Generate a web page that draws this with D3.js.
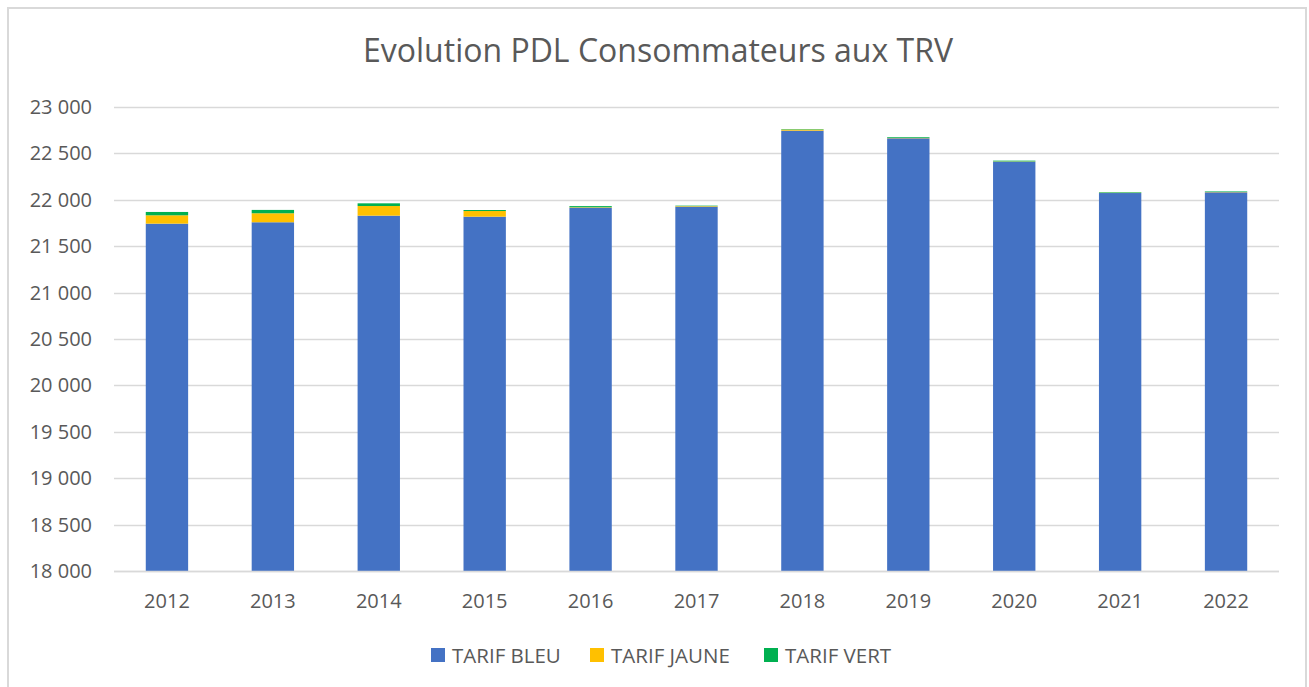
<!DOCTYPE html>
<html>
<head>
<meta charset="utf-8">
<script src="https://cdn.jsdelivr.net/npm/d3@7"></script>
<style>
  html, body { margin: 0; padding: 0; background: #fff; }
  svg text { font-family: "Open Sans", "DejaVu Sans", sans-serif; fill: #595959; }
</style>
</head>
<body>
<div id="chart"></div>
<script>
// Data
const years = ["2012", "2013", "2014", "2015", "2016", "2017", "2018", "2019", "2020", "2021", "2022"];
const tarifBleu = [21743, 21758, 21829, 21818, 21915, 21926, 22745, 22663, 22411, 22073, 22081];
const tarifJaune = [90, 97, 104, 61, 5, 6, 12, 4, 3, 3, 3];
const tarifVert = [36, 36, 29, 11, 12, 5, 5, 8, 8, 6, 6];
const yTicks = [18000, 18500, 19000, 19500, 20000, 20500, 21000, 21500, 22000, 22500, 23000];

const seriesNames = ["TARIF BLEU", "TARIF JAUNE", "TARIF VERT"];
const colors = ["#4472C4", "#FFC000", "#00B050"];

const width = 1309;
const height = 687;
const margin = { top: 107, right: 30, bottom: 116, left: 114 };
const plotRight = 1279;

const svg = d3.select("#chart")
  .append("svg")
  .attr("width", width)
  .attr("height", height);

// Chart frame
svg.append("rect")
  .attr("x", 8)
  .attr("y", 8)
  .attr("width", 1298)
  .attr("height", 690)
  .attr("fill", "#fff")
  .attr("stroke", "#D9D9D9")
  .attr("stroke-width", 2);

// Title
svg.append("text")
  .attr("x", 658)
  .attr("y", 62)
  .attr("text-anchor", "middle")
  .style("font-size", "32px")
  .text("Evolution PDL Consommateurs aux TRV");

const x = d3.scaleBand()
  .domain(years)
  .range([margin.left, plotRight])
  .paddingInner(0.6)
  .paddingOuter(0.3);

const y = d3.scaleLinear()
  .domain([18000, 23000])
  .range([height - margin.bottom, margin.top]);

// Gridlines
svg.append("g")
  .selectAll("line")
  .data(yTicks)
  .enter()
  .append("line")
  .attr("x1", margin.left)
  .attr("x2", plotRight)
  .attr("y1", d => Math.round(y(d)) + 0.5)
  .attr("y2", d => Math.round(y(d)) + 0.5)
  .attr("stroke", "#D9D9D9")
  .attr("stroke-width", 1.3);

// Y axis labels (French thousands separator)
const fmt = d => d3.format(",")(d).replace(",", " ");
const yAxis = d3.axisLeft(y)
  .tickValues(yTicks)
  .tickSize(0)
  .tickPadding(22)
  .tickFormat(fmt);

const gy = svg.append("g")
  .attr("transform", `translate(${margin.left},0)`)
  .call(yAxis);
gy.select(".domain").remove();
gy.selectAll("text")
  .style("font-size", "20px")
  .style("fill", "#595959")
  .style("font-family", "'Open Sans', sans-serif");

// Stacked bars
const rows = years.map((yr, i) => ({
  year: yr,
  "TARIF BLEU": tarifBleu[i],
  "TARIF JAUNE": tarifJaune[i],
  "TARIF VERT": tarifVert[i]
}));

const stack = d3.stack().keys(seriesNames);
const stacked = stack(rows);

svg.append("g")
  .selectAll("g")
  .data(stacked)
  .enter()
  .append("g")
  .attr("fill", (d, i) => colors[i])
  .selectAll("rect")
  .data(d => d)
  .enter()
  .append("rect")
  .attr("x", d => x(d.data.year))
  .attr("width", x.bandwidth())
  .attr("y", d => y(d[1]))
  .attr("height", d => Math.max(0, y(Math.max(d[0], 18000)) - y(d[1])));

// X axis baseline and labels
const xAxis = d3.axisBottom(x)
  .tickSize(0)
  .tickPadding(23);

const gx = svg.append("g")
  .attr("transform", `translate(0,${y(18000)})`)
  .call(xAxis);
gx.select(".domain").remove();
gx.selectAll("text")
  .style("font-size", "20px")
  .style("fill", "#595959")
  .style("font-family", "'Open Sans', sans-serif");

svg.append("line")
  .attr("x1", margin.left)
  .attr("x2", plotRight)
  .attr("y1", Math.round(y(18000)) + 0.5)
  .attr("y2", Math.round(y(18000)) + 0.5)
  .attr("stroke", "#D9D9D9")
  .attr("stroke-width", 1.3);

// Legend
const legendX = [431, 590, 764];
const legend = svg.append("g")
  .selectAll("g")
  .data(seriesNames)
  .enter()
  .append("g")
  .attr("transform", (d, i) => `translate(${legendX[i]},648)`);

legend.append("rect")
  .attr("width", 14)
  .attr("height", 14)
  .attr("fill", (d, i) => colors[i]);

legend.append("text")
  .attr("x", 21)
  .attr("y", 14.5)
  .style("font-size", "20.5px")
  .text(d => d);
</script>
</body>
</html>
